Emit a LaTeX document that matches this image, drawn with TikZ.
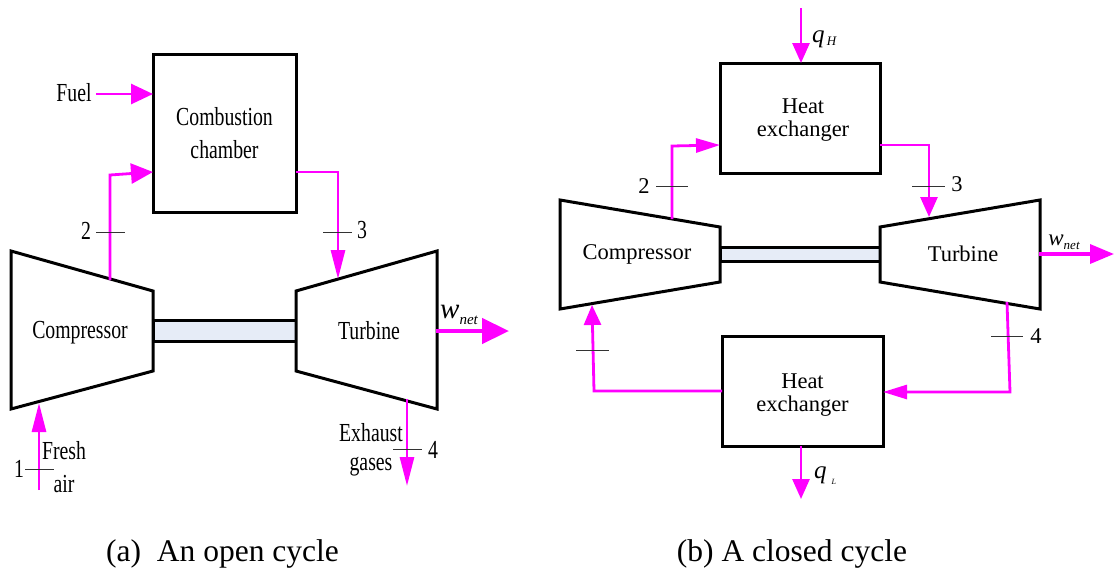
\documentclass[tikz,border=0pt]{standalone}
\usepackage{fontspec}
\setmainfont{Liberation Serif}
\newfontfamily\narrowfont[FakeStretch=0.76]{Liberation Serif}
\usetikzlibrary{arrows.meta}
\definecolor{shaftblue}{HTML}{E6ECF7}
\definecolor{flowpink}{HTML}{FF00FF}
\newcommand{\flowsym}[5]{{\fontsize{#3}{#3}\selectfont\itshape #1\raisebox{-#5pt}{\fontsize{#4}{#4}\selectfont #2}}}
\begin{document}
\begin{tikzpicture}[
    x=1pt,
    y=-1pt,
    machine/.style={draw, line width=3pt, line join=miter, fill=white},
    shaft/.style={draw, line width=3pt, fill=shaftblue},
    box/.style={rectangle, draw, line width=3pt, outer sep=0pt, align=center},
    txt/.style={inner sep=0pt, align=center},
    lefttxt/.style={txt, font=\narrowfont\fontsize{26}{33}\selectfont},
    righttxt/.style={txt, font=\fontsize{22.5}{23}\selectfont},
    captiontxt/.style={txt, font=\fontsize{31.5}{33}\selectfont},
    arrow/.style={flowpink, line width=2.8pt},
    openh/.style={arrow, -{Triangle[length=22pt, width=20pt]}},
    openv/.style={arrow, -{Triangle[length=29pt, width=14pt]}},
    closedh/.style={arrow, -{Triangle[length=24pt, width=14pt]}},
    closedv/.style={arrow, -{Triangle[length=20pt, width=17pt]}},
    power/.style={flowpink, line width=4.5pt, -{Triangle[length=27pt, width=25pt]}},
    tick/.style={draw=black!80, line width=0.8pt}
]
\useasboundingbox (0,0) rectangle (1114,571);

% Open cycle machines
\draw[shaft] (153,320) rectangle (296,341);
\draw[machine] (11,251) -- (153,291) -- (153,371) -- (11,409) -- cycle;
\draw[machine] (296,291) -- (437,251) -- (437,409) -- (296,371) -- cycle;
\node[box, minimum width=143pt, minimum height=158pt, font=\narrowfont\fontsize{26}{33}\selectfont] (chamber) at (224.5,133) {Combustion\\chamber};
\node[lefttxt] (opencomp) at (80,333) {Compressor};
\node[lefttxt] (openturb) at (369,331) {Turbine};

% Open cycle labels
\node[lefttxt] (fuel) at (74,93) {Fuel};
\node[lefttxt] (opentwo) at (86,231) {2};
\node[lefttxt] (openthree) at (362,230) {3};
\node[lefttxt] (openfour) at (433,450) {4};
\node[lefttxt] (openone) at (19,469) {1};
\node[lefttxt] (fresh) at (64,451) {Fresh};
\node[lefttxt] (air) at (64,484) {air};
\node[lefttxt] (exhaust) at (371,433) {Exhaust};
\node[lefttxt] (gases) at (371,467) {gases};
\node[txt] (openwnet) at (459,315) {\flowsym{w}{net}{29}{15}{6}};

% Open cycle ports
\coordinate (fuelout) at (96,94);
\coordinate (fuelin) at (153,94);
\coordinate (openc2) at (110,280);
\coordinate (openb2) at (110,175);
\coordinate (chamberin) at (153,172);
\coordinate (chamberout) at (296,172);
\coordinate (opent3) at (338,172);
\coordinate (turbin) at (338,279);
\coordinate (openw0) at (436,331);
\coordinate (openw1) at (509,331);
\coordinate (exh0) at (407,399);
\coordinate (exh1) at (407,486);
\coordinate (air0) at (39,490);
\coordinate (air1) at (39,403);

% Open cycle connections
\draw[openh] (fuelout) -- (fuelin);
\draw[openh] (openc2) -- (openb2) -- (chamberin);
\draw[openv] (chamberout) -- (opent3) -- (turbin);
\draw[power] (openw0) -- (openw1);
\draw[openv] (exh0) -- (exh1);
\draw[openv] (air0) -- (air1);

\draw[tick] (96,232) -- (125,232);
\draw[tick] (323,232) -- (352,232);
\draw[tick] (393,449) -- (422,449);
\draw[tick] (25,469) -- (54,469);

% Closed cycle machines
\draw[shaft] (720,247) rectangle (880,261);
\draw[machine] (560,200) -- (720,227) -- (720,282) -- (560,309) -- cycle;
\draw[machine] (880,227) -- (1040,200) -- (1040,309) -- (880,282) -- cycle;
\node[box, minimum width=160pt, minimum height=110pt] (hotex) at (800.5,118) {};
\node[box, minimum width=161pt, minimum height=110pt] (coldex) at (802.5,391) {};
\node[righttxt] (hottxt) at (803,120) {Heat\\exchanger};
\node[righttxt] (coldtxt) at (802.5,395) {Heat\\exchanger};
\node[righttxt] (closedcomp) at (637,254) {Compressor};
\node[righttxt] (closedturb) at (963,254) {Turbine};

% Closed cycle labels
\node[righttxt] (closedtwo) at (644,186) {2};
\node[righttxt] (closedthree) at (957,184) {3};
\node[righttxt] (closedfour) at (1036,336) {4};
\node[txt, anchor=west] (qhigh) at (812,39) {\flowsym{q}{\,H}{25}{13}{3}};
\node[txt, anchor=west] (qlow) at (814,476) {\flowsym{q}{\hspace{5pt}L}{25}{8}{6}};
\node[txt] (closedwnet) at (1064,242) {\flowsym{w}{net}{23}{13}{4}};

% Closed cycle ports
\coordinate (qh0) at (801,8);
\coordinate (qh1) at (801,63);
\coordinate (closedc2) at (672,219);
\coordinate (closedb2) at (672,146);
\coordinate (hotin) at (720,145);
\coordinate (hotout) at (880,145);
\coordinate (closedt3) at (929,145);
\coordinate (closedturbin) at (929,217);
\coordinate (closedw0) at (1039,254);
\coordinate (closedw1) at (1114,254);
\coordinate (closedt4) at (1007,302);
\coordinate (closedb4) at (1010,392);
\coordinate (coldin) at (883,392);
\coordinate (coldout) at (722,391);
\coordinate (closedb1) at (594,391);
\coordinate (closedc1) at (592,305);
\coordinate (ql1) at (801,499);

% Closed cycle connections
\draw[closedv] (qh0) -- (qh1);
\draw[closedh] (closedc2) -- (closedb2) -- (hotin);
\draw[closedv] (hotout) -- (closedt3) -- (closedturbin);
\draw[flowpink, line width=3.5pt, -{Triangle[length=24pt, width=19pt]}] (closedw0) -- (closedw1);
\draw[closedh] (closedt4) -- (closedb4) -- (coldin);
\draw[closedv] (coldout) -- (closedb1) -- (closedc1);
\draw[closedv] (coldex.south) ++(-1.5,0) -- (ql1);

\draw[tick] (656,186) -- (688,186);
\draw[tick] (912,186) -- (945,186);
\draw[tick] (991,336) -- (1023,336);
\draw[tick] (576,350) -- (609,350);

% Captions
\node[captiontxt] (opencap) at (222.5,554) {(a)\ \ An open cycle};
\node[captiontxt] (closedcap) at (792,554) {(b) A closed cycle};

\end{tikzpicture}
\end{document}
